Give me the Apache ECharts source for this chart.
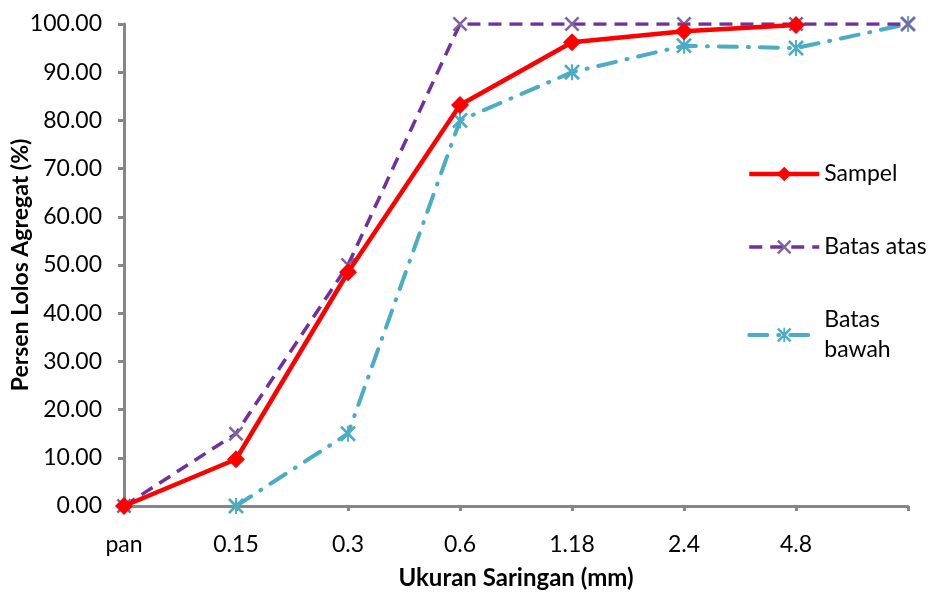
<!DOCTYPE html>
<html>
<head>
<meta charset="utf-8">
<script src="https://cdn.jsdelivr.net/npm/echarts@6/dist/echarts.min.js"></script>
<style>
html, body { margin: 0; padding: 0; background: #fff; }
#chart { width: 933px; height: 594px; }
</style>
</head>
<body>
<div id="chart"></div>
<script>
// ukuran saringan (mm), titik terakhir tanpa label
var categories = ['pan', '0.15', '0.3', '0.6', '1.18', '2.4', '4.8', ''];
var sampel = [0, 9.7, 48.5, 83.2, 96.2, 98.5, 99.8, null];
var batasAtas = [0, 15, 50, 100, 100, 100, 100, 100];
var batasBawah = [null, 0, 15, 80, 90, 95.5, 95, 100];
var yTicks = { min: 0, max: 100, interval: 10 };

var font = 'Lato, "Open Sans", sans-serif';
var axisGrey = '#868686';

var xMark = 'path://M0,1.2 L1.2,0 L10,8.8 L8.8,10 Z M8.8,0 L10,1.2 L1.2,10 L0,8.8 Z';
var starMark = 'path://M0,1.2 L1.2,0 L10,8.8 L8.8,10 Z M8.8,0 L10,1.2 L1.2,10 L0,8.8 Z M4.4,0 L5.6,0 L5.6,10 L4.4,10 Z';

var dom = document.getElementById('chart');
var myChart = echarts.init(dom);
var option = {
	animation: false,
	backgroundColor: '#fff',
	textStyle: { fontFamily: font },
	grid: { left: 124, right: 25, top: 24, bottom: 88, outerBoundsMode: 'none' },
	legend: {
		orient: 'vertical',
		left: 742,
		top: 154,
		itemWidth: 70,
		itemHeight: 18,
		itemGap: 43,
		textStyle: { fontSize: 23, color: '#000', fontFamily: font, lineHeight: 30 },
		data: [
			{ name: 'Sampel', lineStyle: { width: 4.5 } },
			{ name: 'Batas atas', lineStyle: { width: 3.5 } },
			{ name: 'Batas\nbawah', lineStyle: { width: 4 } }
		]
	},
	xAxis: {
		type: 'category',
		boundaryGap: false,
		data: categories,
		name: 'Ukuran Saringan (mm)',
		nameLocation: 'middle',
		nameGap: 60,
		nameTextStyle: { fontSize: 24, fontWeight: 'bold', color: '#000', fontFamily: font },
		axisLine: { lineStyle: { color: axisGrey, width: 3 } },
		axisTick: { show: true, alignWithLabel: true, length: 5, lineStyle: { color: axisGrey, width: 3 } },
		axisLabel: { fontSize: 23, color: '#000', margin: 27, fontFamily: font }
	},
	yAxis: {
		type: 'value',
		min: yTicks.min,
		max: yTicks.max,
		interval: yTicks.interval,
		name: 'Persen Lolos Agregat (%)',
		nameLocation: 'middle',
		nameGap: 92,
		nameMoveOverlap: false,
		nameTextStyle: { fontSize: 23, fontWeight: 'bold', color: '#000', fontFamily: font },
		splitLine: { show: false },
		axisLine: { show: true, lineStyle: { color: axisGrey, width: 3 } },
		axisTick: { show: true, length: 6, lineStyle: { color: axisGrey, width: 3 } },
		axisLabel: {
			fontSize: 23, color: '#000', margin: 22, fontFamily: font,
			formatter: function (v) { return v.toFixed(2); }
		}
	},
	series: [
		{
			name: 'Sampel',
			type: 'line',
			data: sampel,
			symbol: 'diamond',
			symbolSize: 18,
			itemStyle: { color: '#ff0000' },
			lineStyle: { color: '#ff0000', width: 4.5 },
			z: 4
		},
		{
			name: 'Batas atas',
			type: 'line',
			data: batasAtas,
			symbol: xMark,
			symbolSize: 15,
			itemStyle: { color: '#8064a2' },
			lineStyle: { color: '#7030a0', width: 3.5, type: [13, 8] },
			z: 3
		},
		{
			name: 'Batas\nbawah',
			type: 'line',
			data: batasBawah,
			symbol: starMark,
			symbolSize: 16,
			itemStyle: { color: '#4bacc6' },
			lineStyle: { color: '#4bacc6', width: 4, type: [18, 11, 1, 11], cap: 'round' },
			z: 2
		}
	]
};

if (option && typeof option === "object") {
	myChart.setOption(option, true);
}
</script>
</body>
</html>
